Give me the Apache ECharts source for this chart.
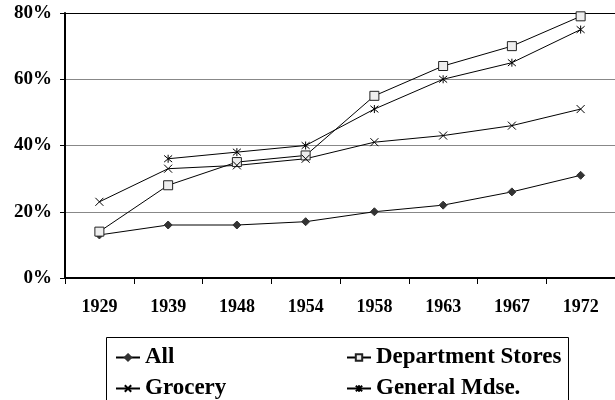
<!DOCTYPE html>
<html>
<head>
<meta charset="utf-8">
<script src="https://cdn.jsdelivr.net/npm/echarts@6/dist/echarts.min.js"></script>
<style>
  html, body { margin: 0; padding: 0; background: #fff; }
  #chart { width: 615px; height: 400px; }
</style>
</head>
<body>
<div id="chart"></div>
<script>
// 数据
var years = ["1929", "1939", "1948", "1954", "1958", "1963", "1967", "1972"];
var allStores = [13, 16, 16, 17, 20, 22, 26, 31];
var deptStores = [14, 28, 35, 37, 55, 64, 70, 79];
var grocery = [23, 33, 34, 36, 41, 43, 46, 51];
var generalMdse = ["-", 36, 38, 40, 51, 60, 65, 75];
var yTicks = [0, 20, 40, 60, 80];

var font = "'Liberation Serif', 'Times New Roman', serif";
var crossPath = "path://M0,0L10,10M10,0L0,10";
var starPath = "path://M0,0L10,10M10,0L0,10M5,-1L5,11";

var chart = echarts.init(document.getElementById("chart"));

function lineSeries(name, data, symbol, size, fill, stroke) {
  return {
    name: name,
    type: "line",
    data: data,
    symbol: symbol,
    symbolSize: size,
    showAllSymbol: true,
    connectNulls: false,
    lineStyle: { color: "#000", width: 1 },
    itemStyle: { color: fill, borderColor: stroke, borderWidth: 1 },
    emphasis: { disabled: true },
    z: 3
  };
}

var option = {
  animation: false,
  backgroundColor: "#fff",
  grid: { left: 65, right: -2, top: 13, bottom: 122 },
  xAxis: {
    type: "category",
    data: years,
    boundaryGap: true,
    axisLine: { lineStyle: { color: "#000", width: 2 } },
    axisTick: { show: true, length: 6, lineStyle: { color: "#000", width: 1 } },
    axisLabel: { color: "#000", fontFamily: font, fontWeight: "bold", fontSize: 18, margin: 20 },
    splitLine: { show: false }
  },
  yAxis: {
    type: "value",
    min: yTicks[0],
    max: yTicks[yTicks.length - 1],
    interval: 20,
    axisLine: { show: true, lineStyle: { color: "#000", width: 2 } },
    axisTick: { show: true, length: 5, lineStyle: { color: "#000" } },
    axisLabel: { color: "#000", fontFamily: font, fontWeight: "bold", fontSize: 19, margin: 13, formatter: "{value}%" },
    splitLine: { show: true, lineStyle: { color: ["#000", "#888", "#888", "#888", "#000"], width: 1 } }
  },
  legend: {
    orient: "horizontal",
    left: 110, top: 341,
    width: 470,
    itemWidth: 24, itemHeight: 8, itemGap: 8,
    textStyle: {
      fontFamily: font, fontWeight: "bold", fontSize: 23, color: "#000",
      width: 193, lineHeight: 21
    },
    data: ["All", "Department Stores", "Grocery", "General Mdse."],
    selectedMode: false
  },
  graphic: [
    {
      type: "rect",
      left: 104, top: 335,
      shape: { width: 462, height: 63 },
      style: { fill: "none", stroke: "#000", lineWidth: 1 },
      z: 0
    }
  ],
  series: [
    lineSeries("All", allStores, "diamond", 8, "#333", "#333"),
    lineSeries("Department Stores", deptStores, "rect", 9, "#eee", "#222"),
    lineSeries("Grocery", grocery, crossPath, 8, "none", "#000"),
    lineSeries("General Mdse.", generalMdse, starPath, 8, "none", "#000")
  ]
};

chart.setOption(option);
</script>
</body>
</html>
